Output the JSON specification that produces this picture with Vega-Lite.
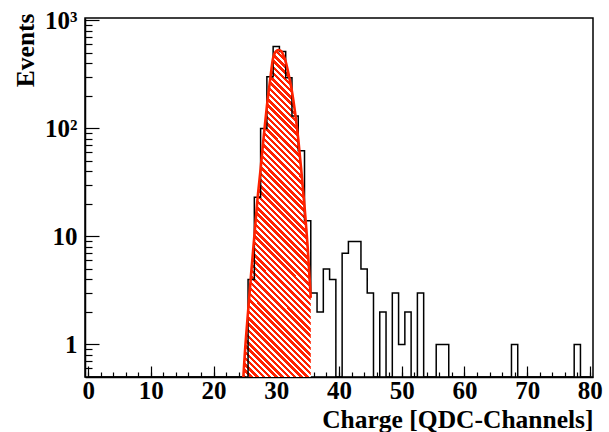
{
  "$schema": "https://vega.github.io/schema/vega-lite/v6.json",
  "width": 508,
  "height": 359,
  "autosize": {"type": "none"},
  "padding": {"left": 85, "top": 18, "right": 16, "bottom": 55},
  "background": "white",
  "config": {
    "view": {"stroke": "black", "strokeWidth": 1.5},
    "axis": {
      "labelFont": "Liberation Serif", "labelFontWeight": "bold", "labelFontSize": 25, "labelColor": "black",
      "titleFont": "Liberation Serif", "titleFontWeight": "bold", "titleFontSize": 25.5, "titleColor": "black",
      "tickColor": "black", "tickWidth": 1.2, "domainColor": "black", "domainWidth": 1.5, "grid": false,
      "labelFlush": false, "labelOverlap": false
    }
  },
  "datasets": {
    "hist": [
      {"charge": 0, "events": 0}, {"charge": 1, "events": 0}, {"charge": 2, "events": 0}, {"charge": 3, "events": 0},
      {"charge": 4, "events": 0}, {"charge": 5, "events": 0}, {"charge": 6, "events": 0}, {"charge": 7, "events": 0},
      {"charge": 8, "events": 0}, {"charge": 9, "events": 0}, {"charge": 10, "events": 0}, {"charge": 11, "events": 0},
      {"charge": 12, "events": 0}, {"charge": 13, "events": 0}, {"charge": 14, "events": 0}, {"charge": 15, "events": 0},
      {"charge": 16, "events": 0}, {"charge": 17, "events": 0}, {"charge": 18, "events": 0}, {"charge": 19, "events": 0},
      {"charge": 20, "events": 0}, {"charge": 21, "events": 0}, {"charge": 22, "events": 0}, {"charge": 23, "events": 0},
      {"charge": 24, "events": 0}, {"charge": 25, "events": 0}, {"charge": 26, "events": 4}, {"charge": 27, "events": 23},
      {"charge": 28, "events": 100}, {"charge": 29, "events": 300}, {"charge": 30, "events": 572}, {"charge": 31, "events": 515},
      {"charge": 32, "events": 295}, {"charge": 33, "events": 130}, {"charge": 34, "events": 62}, {"charge": 35, "events": 14},
      {"charge": 36, "events": 3}, {"charge": 37, "events": 2}, {"charge": 38, "events": 5}, {"charge": 39, "events": 4},
      {"charge": 40, "events": 0}, {"charge": 41, "events": 7}, {"charge": 42, "events": 9}, {"charge": 43, "events": 9},
      {"charge": 44, "events": 5}, {"charge": 45, "events": 3}, {"charge": 46, "events": 0}, {"charge": 47, "events": 2},
      {"charge": 48, "events": 0}, {"charge": 49, "events": 3}, {"charge": 50, "events": 1}, {"charge": 51, "events": 2},
      {"charge": 52, "events": 0}, {"charge": 53, "events": 3}, {"charge": 54, "events": 0}, {"charge": 55, "events": 0},
      {"charge": 56, "events": 1}, {"charge": 57, "events": 1}, {"charge": 58, "events": 0}, {"charge": 59, "events": 0},
      {"charge": 60, "events": 0}, {"charge": 61, "events": 0}, {"charge": 62, "events": 0}, {"charge": 63, "events": 0},
      {"charge": 64, "events": 0}, {"charge": 65, "events": 0}, {"charge": 66, "events": 0}, {"charge": 67, "events": 0},
      {"charge": 68, "events": 1}, {"charge": 69, "events": 0}, {"charge": 70, "events": 0}, {"charge": 71, "events": 0},
      {"charge": 72, "events": 0}, {"charge": 73, "events": 0}, {"charge": 74, "events": 0}, {"charge": 75, "events": 0},
      {"charge": 76, "events": 0}, {"charge": 77, "events": 0}, {"charge": 78, "events": 1}, {"charge": 79, "events": 0},
      {"charge": 80, "events": 0}
    ],
    "fit": [
      {"charge": 24.75, "events": 0.5}, {"charge": 25.0, "events": 0.85}, {"charge": 25.5, "events": 2.0},
      {"charge": 26.0, "events": 4.6}, {"charge": 26.5, "events": 10}, {"charge": 27.0, "events": 22},
      {"charge": 27.5, "events": 42}, {"charge": 28.0, "events": 85}, {"charge": 28.5, "events": 160},
      {"charge": 29.0, "events": 275}, {"charge": 29.5, "events": 450}, {"charge": 30.0, "events": 520},
      {"charge": 30.4, "events": 532}, {"charge": 30.8, "events": 518}, {"charge": 31.2, "events": 465},
      {"charge": 31.6, "events": 395}, {"charge": 32.0, "events": 310}, {"charge": 32.5, "events": 220},
      {"charge": 33.0, "events": 140}, {"charge": 33.5, "events": 80}, {"charge": 34.0, "events": 40},
      {"charge": 34.5, "events": 19}, {"charge": 35.0, "events": 8}, {"charge": 35.5, "events": 2.7}
    ]
  },
  "layer": [
    {
      "data": {"name": "fit"},
      "mark": {
        "type": "area", "interpolate": "monotone", "clip": true, "strokeWidth": 0,
        "fill": {
          "gradient": "linear", "x1": 0, "y1": 1, "x2": 0.2389, "y2": -0.157,
          "stops": [
            {"offset": 0, "color": "#ff2200"}, {"offset": 0.00873, "color": "#ff2200"}, {"offset": 0.00873, "color": "#ffffff"}, {"offset": 0.01587, "color": "#ffffff"},
            {"offset": 0.01587, "color": "#ff2200"}, {"offset": 0.0246, "color": "#ff2200"}, {"offset": 0.0246, "color": "#ffffff"}, {"offset": 0.03175, "color": "#ffffff"},
            {"offset": 0.03175, "color": "#ff2200"}, {"offset": 0.04048, "color": "#ff2200"}, {"offset": 0.04048, "color": "#ffffff"}, {"offset": 0.04762, "color": "#ffffff"},
            {"offset": 0.04762, "color": "#ff2200"}, {"offset": 0.05635, "color": "#ff2200"}, {"offset": 0.05635, "color": "#ffffff"}, {"offset": 0.06349, "color": "#ffffff"},
            {"offset": 0.06349, "color": "#ff2200"}, {"offset": 0.07222, "color": "#ff2200"}, {"offset": 0.07222, "color": "#ffffff"}, {"offset": 0.07937, "color": "#ffffff"},
            {"offset": 0.07937, "color": "#ff2200"}, {"offset": 0.0881, "color": "#ff2200"}, {"offset": 0.0881, "color": "#ffffff"}, {"offset": 0.09524, "color": "#ffffff"},
            {"offset": 0.09524, "color": "#ff2200"}, {"offset": 0.10397, "color": "#ff2200"}, {"offset": 0.10397, "color": "#ffffff"}, {"offset": 0.11111, "color": "#ffffff"},
            {"offset": 0.11111, "color": "#ff2200"}, {"offset": 0.11984, "color": "#ff2200"}, {"offset": 0.11984, "color": "#ffffff"}, {"offset": 0.12698, "color": "#ffffff"},
            {"offset": 0.12698, "color": "#ff2200"}, {"offset": 0.13571, "color": "#ff2200"}, {"offset": 0.13571, "color": "#ffffff"}, {"offset": 0.14286, "color": "#ffffff"},
            {"offset": 0.14286, "color": "#ff2200"}, {"offset": 0.15159, "color": "#ff2200"}, {"offset": 0.15159, "color": "#ffffff"}, {"offset": 0.15873, "color": "#ffffff"},
            {"offset": 0.15873, "color": "#ff2200"}, {"offset": 0.16746, "color": "#ff2200"}, {"offset": 0.16746, "color": "#ffffff"}, {"offset": 0.1746, "color": "#ffffff"},
            {"offset": 0.1746, "color": "#ff2200"}, {"offset": 0.18333, "color": "#ff2200"}, {"offset": 0.18333, "color": "#ffffff"}, {"offset": 0.19048, "color": "#ffffff"},
            {"offset": 0.19048, "color": "#ff2200"}, {"offset": 0.19921, "color": "#ff2200"}, {"offset": 0.19921, "color": "#ffffff"}, {"offset": 0.20635, "color": "#ffffff"},
            {"offset": 0.20635, "color": "#ff2200"}, {"offset": 0.21508, "color": "#ff2200"}, {"offset": 0.21508, "color": "#ffffff"}, {"offset": 0.22222, "color": "#ffffff"},
            {"offset": 0.22222, "color": "#ff2200"}, {"offset": 0.23095, "color": "#ff2200"}, {"offset": 0.23095, "color": "#ffffff"}, {"offset": 0.2381, "color": "#ffffff"},
            {"offset": 0.2381, "color": "#ff2200"}, {"offset": 0.24683, "color": "#ff2200"}, {"offset": 0.24683, "color": "#ffffff"}, {"offset": 0.25397, "color": "#ffffff"},
            {"offset": 0.25397, "color": "#ff2200"}, {"offset": 0.2627, "color": "#ff2200"}, {"offset": 0.2627, "color": "#ffffff"}, {"offset": 0.26984, "color": "#ffffff"},
            {"offset": 0.26984, "color": "#ff2200"}, {"offset": 0.27857, "color": "#ff2200"}, {"offset": 0.27857, "color": "#ffffff"}, {"offset": 0.28571, "color": "#ffffff"},
            {"offset": 0.28571, "color": "#ff2200"}, {"offset": 0.29444, "color": "#ff2200"}, {"offset": 0.29444, "color": "#ffffff"}, {"offset": 0.30159, "color": "#ffffff"},
            {"offset": 0.30159, "color": "#ff2200"}, {"offset": 0.31032, "color": "#ff2200"}, {"offset": 0.31032, "color": "#ffffff"}, {"offset": 0.31746, "color": "#ffffff"},
            {"offset": 0.31746, "color": "#ff2200"}, {"offset": 0.32619, "color": "#ff2200"}, {"offset": 0.32619, "color": "#ffffff"}, {"offset": 0.33333, "color": "#ffffff"},
            {"offset": 0.33333, "color": "#ff2200"}, {"offset": 0.34206, "color": "#ff2200"}, {"offset": 0.34206, "color": "#ffffff"}, {"offset": 0.34921, "color": "#ffffff"},
            {"offset": 0.34921, "color": "#ff2200"}, {"offset": 0.35794, "color": "#ff2200"}, {"offset": 0.35794, "color": "#ffffff"}, {"offset": 0.36508, "color": "#ffffff"},
            {"offset": 0.36508, "color": "#ff2200"}, {"offset": 0.37381, "color": "#ff2200"}, {"offset": 0.37381, "color": "#ffffff"}, {"offset": 0.38095, "color": "#ffffff"},
            {"offset": 0.38095, "color": "#ff2200"}, {"offset": 0.38968, "color": "#ff2200"}, {"offset": 0.38968, "color": "#ffffff"}, {"offset": 0.39683, "color": "#ffffff"},
            {"offset": 0.39683, "color": "#ff2200"}, {"offset": 0.40556, "color": "#ff2200"}, {"offset": 0.40556, "color": "#ffffff"}, {"offset": 0.4127, "color": "#ffffff"},
            {"offset": 0.4127, "color": "#ff2200"}, {"offset": 0.42143, "color": "#ff2200"}, {"offset": 0.42143, "color": "#ffffff"}, {"offset": 0.42857, "color": "#ffffff"},
            {"offset": 0.42857, "color": "#ff2200"}, {"offset": 0.4373, "color": "#ff2200"}, {"offset": 0.4373, "color": "#ffffff"}, {"offset": 0.44444, "color": "#ffffff"},
            {"offset": 0.44444, "color": "#ff2200"}, {"offset": 0.45317, "color": "#ff2200"}, {"offset": 0.45317, "color": "#ffffff"}, {"offset": 0.46032, "color": "#ffffff"},
            {"offset": 0.46032, "color": "#ff2200"}, {"offset": 0.46905, "color": "#ff2200"}, {"offset": 0.46905, "color": "#ffffff"}, {"offset": 0.47619, "color": "#ffffff"},
            {"offset": 0.47619, "color": "#ff2200"}, {"offset": 0.48492, "color": "#ff2200"}, {"offset": 0.48492, "color": "#ffffff"}, {"offset": 0.49206, "color": "#ffffff"},
            {"offset": 0.49206, "color": "#ff2200"}, {"offset": 0.50079, "color": "#ff2200"}, {"offset": 0.50079, "color": "#ffffff"}, {"offset": 0.50794, "color": "#ffffff"},
            {"offset": 0.50794, "color": "#ff2200"}, {"offset": 0.51667, "color": "#ff2200"}, {"offset": 0.51667, "color": "#ffffff"}, {"offset": 0.52381, "color": "#ffffff"},
            {"offset": 0.52381, "color": "#ff2200"}, {"offset": 0.53254, "color": "#ff2200"}, {"offset": 0.53254, "color": "#ffffff"}, {"offset": 0.53968, "color": "#ffffff"},
            {"offset": 0.53968, "color": "#ff2200"}, {"offset": 0.54841, "color": "#ff2200"}, {"offset": 0.54841, "color": "#ffffff"}, {"offset": 0.55556, "color": "#ffffff"},
            {"offset": 0.55556, "color": "#ff2200"}, {"offset": 0.56429, "color": "#ff2200"}, {"offset": 0.56429, "color": "#ffffff"}, {"offset": 0.57143, "color": "#ffffff"},
            {"offset": 0.57143, "color": "#ff2200"}, {"offset": 0.58016, "color": "#ff2200"}, {"offset": 0.58016, "color": "#ffffff"}, {"offset": 0.5873, "color": "#ffffff"},
            {"offset": 0.5873, "color": "#ff2200"}, {"offset": 0.59603, "color": "#ff2200"}, {"offset": 0.59603, "color": "#ffffff"}, {"offset": 0.60317, "color": "#ffffff"},
            {"offset": 0.60317, "color": "#ff2200"}, {"offset": 0.6119, "color": "#ff2200"}, {"offset": 0.6119, "color": "#ffffff"}, {"offset": 0.61905, "color": "#ffffff"},
            {"offset": 0.61905, "color": "#ff2200"}, {"offset": 0.62778, "color": "#ff2200"}, {"offset": 0.62778, "color": "#ffffff"}, {"offset": 0.63492, "color": "#ffffff"},
            {"offset": 0.63492, "color": "#ff2200"}, {"offset": 0.64365, "color": "#ff2200"}, {"offset": 0.64365, "color": "#ffffff"}, {"offset": 0.65079, "color": "#ffffff"},
            {"offset": 0.65079, "color": "#ff2200"}, {"offset": 0.65952, "color": "#ff2200"}, {"offset": 0.65952, "color": "#ffffff"}, {"offset": 0.66667, "color": "#ffffff"},
            {"offset": 0.66667, "color": "#ff2200"}, {"offset": 0.6754, "color": "#ff2200"}, {"offset": 0.6754, "color": "#ffffff"}, {"offset": 0.68254, "color": "#ffffff"},
            {"offset": 0.68254, "color": "#ff2200"}, {"offset": 0.69127, "color": "#ff2200"}, {"offset": 0.69127, "color": "#ffffff"}, {"offset": 0.69841, "color": "#ffffff"},
            {"offset": 0.69841, "color": "#ff2200"}, {"offset": 0.70714, "color": "#ff2200"}, {"offset": 0.70714, "color": "#ffffff"}, {"offset": 0.71429, "color": "#ffffff"},
            {"offset": 0.71429, "color": "#ff2200"}, {"offset": 0.72302, "color": "#ff2200"}, {"offset": 0.72302, "color": "#ffffff"}, {"offset": 0.73016, "color": "#ffffff"},
            {"offset": 0.73016, "color": "#ff2200"}, {"offset": 0.73889, "color": "#ff2200"}, {"offset": 0.73889, "color": "#ffffff"}, {"offset": 0.74603, "color": "#ffffff"},
            {"offset": 0.74603, "color": "#ff2200"}, {"offset": 0.75476, "color": "#ff2200"}, {"offset": 0.75476, "color": "#ffffff"}, {"offset": 0.7619, "color": "#ffffff"},
            {"offset": 0.7619, "color": "#ff2200"}, {"offset": 0.77063, "color": "#ff2200"}, {"offset": 0.77063, "color": "#ffffff"}, {"offset": 0.77778, "color": "#ffffff"},
            {"offset": 0.77778, "color": "#ff2200"}, {"offset": 0.78651, "color": "#ff2200"}, {"offset": 0.78651, "color": "#ffffff"}, {"offset": 0.79365, "color": "#ffffff"},
            {"offset": 0.79365, "color": "#ff2200"}, {"offset": 0.80238, "color": "#ff2200"}, {"offset": 0.80238, "color": "#ffffff"}, {"offset": 0.80952, "color": "#ffffff"},
            {"offset": 0.80952, "color": "#ff2200"}, {"offset": 0.81825, "color": "#ff2200"}, {"offset": 0.81825, "color": "#ffffff"}, {"offset": 0.8254, "color": "#ffffff"},
            {"offset": 0.8254, "color": "#ff2200"}, {"offset": 0.83413, "color": "#ff2200"}, {"offset": 0.83413, "color": "#ffffff"}, {"offset": 0.84127, "color": "#ffffff"},
            {"offset": 0.84127, "color": "#ff2200"}, {"offset": 0.85, "color": "#ff2200"}, {"offset": 0.85, "color": "#ffffff"}, {"offset": 0.85714, "color": "#ffffff"},
            {"offset": 0.85714, "color": "#ff2200"}, {"offset": 0.86587, "color": "#ff2200"}, {"offset": 0.86587, "color": "#ffffff"}, {"offset": 0.87302, "color": "#ffffff"},
            {"offset": 0.87302, "color": "#ff2200"}, {"offset": 0.88175, "color": "#ff2200"}, {"offset": 0.88175, "color": "#ffffff"}, {"offset": 0.88889, "color": "#ffffff"},
            {"offset": 0.88889, "color": "#ff2200"}, {"offset": 0.89762, "color": "#ff2200"}, {"offset": 0.89762, "color": "#ffffff"}, {"offset": 0.90476, "color": "#ffffff"},
            {"offset": 0.90476, "color": "#ff2200"}, {"offset": 0.91349, "color": "#ff2200"}, {"offset": 0.91349, "color": "#ffffff"}, {"offset": 0.92063, "color": "#ffffff"},
            {"offset": 0.92063, "color": "#ff2200"}, {"offset": 0.92937, "color": "#ff2200"}, {"offset": 0.92937, "color": "#ffffff"}, {"offset": 0.93651, "color": "#ffffff"},
            {"offset": 0.93651, "color": "#ff2200"}, {"offset": 0.94524, "color": "#ff2200"}, {"offset": 0.94524, "color": "#ffffff"}, {"offset": 0.95238, "color": "#ffffff"},
            {"offset": 0.95238, "color": "#ff2200"}, {"offset": 0.96111, "color": "#ff2200"}, {"offset": 0.96111, "color": "#ffffff"}, {"offset": 0.96825, "color": "#ffffff"},
            {"offset": 0.96825, "color": "#ff2200"}, {"offset": 0.97698, "color": "#ff2200"}, {"offset": 0.97698, "color": "#ffffff"}, {"offset": 0.98413, "color": "#ffffff"},
            {"offset": 0.98413, "color": "#ff2200"}, {"offset": 0.99286, "color": "#ff2200"}, {"offset": 0.99286, "color": "#ffffff"}, {"offset": 1, "color": "#ffffff"}
          ]
        }
      },
      "encoding": {
        "x": {
          "field": "charge", "type": "quantitative",
          "scale": {"domain": [-0.5, 80.5], "nice": false, "zero": false},
          "axis": {
            "orient": "bottom", "values": [0, 10, 20, 30, 40, 50, 60, 70, 80],
            "tickSize": -11, "labelPadding": 12, "format": "d",
            "title": "Charge [QDC-Channels]", "titleAnchor": "end", "titleAlign": "right",
            "titleY": 50, "titleBaseline": "alphabetic"
          }
        },
        "y": {
          "field": "events", "type": "quantitative",
          "scale": {"type": "log", "domain": [0.5, 1052], "nice": false, "clamp": true},
          "axis": {
            "orient": "left", "values": [1, 10, 100, 1000],
            "tickSize": -14, "labelPadding": 22,
            "labelExpr": "datum.value >= 999 ? '10³' : datum.value >= 99 ? '10²' : datum.value >= 9 ? '10' : '1'",
            "title": "Events", "titleAngle": -90, "titleAnchor": "end", "titleAlign": "right",
            "titleX": -52, "titleY": -5, "titleBaseline": "alphabetic"
          }
        }
      }
    },
    {
      "data": {"name": "hist"},
      "mark": {"type": "line", "interpolate": "step", "color": "black", "strokeWidth": 1.5, "clip": true},
      "encoding": {
        "x": {
          "field": "charge", "type": "quantitative",
          "scale": {"domain": [-0.5, 80.5], "nice": false, "zero": false},
          "axis": {
            "orient": "bottom", "values": [0, 2, 4, 6, 8, 10, 12, 14, 16, 18, 20, 22, 24, 26, 28, 30, 32, 34, 36, 38, 40, 42, 44, 46, 48, 50, 52, 54, 56, 58, 60, 62, 64, 66, 68, 70, 72, 74, 76, 78, 80],
            "tickSize": -5, "labels": false, "domain": false, "title": null, "offset": 0
          }
        },
        "y": {
          "field": "events", "type": "quantitative",
          "scale": {"type": "log", "domain": [0.5, 1052], "nice": false, "clamp": true},
          "axis": {
            "orient": "left", "values": [0.6, 0.7, 0.8, 0.9, 2, 3, 4, 5, 6, 7, 8, 9, 20, 30, 40, 50, 60, 70, 80, 90, 200, 300, 400, 500, 600, 700, 800, 900],
            "tickSize": -7, "labels": false, "domain": false, "title": null, "offset": 0
          }
        }
      }
    },
    {
      "data": {"name": "fit"},
      "mark": {"type": "line", "interpolate": "monotone", "color": "#ff2200", "strokeWidth": 2.6, "clip": true},
      "encoding": {
        "x": {"field": "charge", "type": "quantitative", "scale": {"domain": [-0.5, 80.5], "nice": false, "zero": false}, "axis": null},
        "y": {"field": "events", "type": "quantitative", "scale": {"type": "log", "domain": [0.5, 1052], "nice": false, "clamp": true}, "axis": null}
      }
    }
  ],
  "resolve": {"axis": {"x": "independent", "y": "independent"}}
}
